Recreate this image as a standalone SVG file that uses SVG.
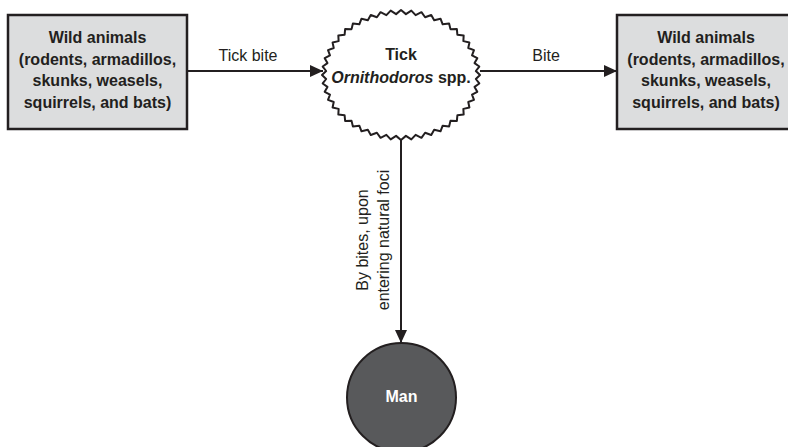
<svg xmlns="http://www.w3.org/2000/svg" width="788" height="447" viewBox="0 0 788 447">
<style>
.box{fill:#dcddde;stroke:#231f20;stroke-width:2.5}
.bt{font-family:"Liberation Sans",Arial,sans-serif;font-size:16px;font-weight:bold;fill:#231f20;text-anchor:middle}
.lbl{font-family:"Liberation Sans",Arial,sans-serif;font-size:16px;fill:#231f20;text-anchor:middle}
.edge{stroke:#231f20;stroke-width:2;fill:none}
</style>
<defs>
<marker id="ah" viewBox="0 0 13 12" refX="13" refY="6" markerWidth="13" markerHeight="12" markerUnits="userSpaceOnUse" orient="auto">
<path d="M0,0 L13,6 L0,12 Z" fill="#231f20"/>
</marker>
</defs>
<rect width="788" height="447" fill="#ffffff"/>
<g id="connectors">
<line class="edge" x1="187" y1="71" x2="323" y2="71" marker-end="url(#ah)"/>
<line class="edge" x1="480" y1="71" x2="617" y2="71" marker-end="url(#ah)"/>
<line class="edge" x1="401" y1="140" x2="401" y2="343" marker-end="url(#ah)"/>
<text class="lbl" x="248" y="61">Tick bite</text>
<text class="lbl" x="546" y="61">Bite</text>
<text class="lbl" transform="translate(368,240) rotate(-90)">By bites, upon</text>
<text class="lbl" transform="translate(389,240) rotate(-90)">entering natural foci</text>
</g>
<g id="wild-left">
<rect class="box" x="8" y="15" width="179" height="114"/>
<text class="bt" x="97.5" y="43">Wild animals</text>
<text class="bt" x="97.5" y="64.5">(rodents, armadillos,</text>
<text class="bt" x="97.5" y="86">skunks, weasels,</text>
<text class="bt" x="97.5" y="107.5">squirrels, and bats)</text>
</g>
<g id="tick">
<polygon fill="#ffffff" stroke="#231f20" stroke-width="2" stroke-linejoin="round" points="480,75 475.84,78.99 479.32,83.48 474.56,86.9 477.31,91.82 472.02,94.61 473.99,99.87 468.27,101.98 469.42,107.5 463.36,108.89 463.67,114.57 457.39,115.22 456.86,120.96 450.45,120.86 449.09,126.57 442.67,125.72 440.5,131.29 434.17,129.71 431.23,135.05 425.11,132.76 421.45,137.79 415.63,134.83 411.31,139.44 405.91,135.87 401,140 396.09,135.87 390.69,139.44 386.37,134.83 380.55,137.79 376.89,132.76 370.77,135.05 367.83,129.71 361.5,131.29 359.33,125.72 352.91,126.57 351.55,120.86 345.14,120.96 344.61,115.22 338.33,114.57 338.64,108.89 332.58,107.5 333.73,101.98 328.01,99.87 329.98,94.61 324.69,91.82 327.44,86.9 322.68,83.48 326.16,78.99 322,75 326.16,71.01 322.68,66.52 327.44,63.1 324.69,58.18 329.98,55.39 328.01,50.13 333.73,48.02 332.58,42.5 338.64,41.11 338.33,35.43 344.61,34.78 345.14,29.04 351.55,29.14 352.91,23.43 359.33,24.28 361.5,18.71 367.83,20.29 370.77,14.95 376.89,17.24 380.55,12.21 386.37,15.17 390.69,10.56 396.09,14.13 401,10 405.91,14.13 411.31,10.56 415.63,15.17 421.45,12.21 425.11,17.24 431.23,14.95 434.17,20.29 440.5,18.71 442.67,24.28 449.09,23.43 450.45,29.14 456.86,29.04 457.39,34.78 463.67,35.43 463.36,41.11 469.42,42.5 468.27,48.02 473.99,50.13 472.02,55.39 477.31,58.18 474.56,63.1 479.32,66.52 475.84,71.01"/>
<text class="bt" x="401" y="60">Tick</text>
<text class="bt" x="401" y="83"><tspan font-style="italic">Ornithodoros</tspan> spp.</text>
</g>
<g id="wild-right">
<rect class="box" x="617" y="15" width="182" height="114"/>
<text class="bt" x="706" y="43">Wild animals</text>
<text class="bt" x="706" y="64.5">(rodents, armadillos,</text>
<text class="bt" x="706" y="86">skunks, weasels,</text>
<text class="bt" x="706" y="107.5">squirrels, and bats)</text>
</g>
<g id="man">
<circle cx="401.5" cy="397.5" r="54.5" fill="#58595b" stroke="#231f20" stroke-width="2"/>
<text class="bt" x="401.5" y="402" style="fill:#ffffff">Man</text>
</g>
</svg>
